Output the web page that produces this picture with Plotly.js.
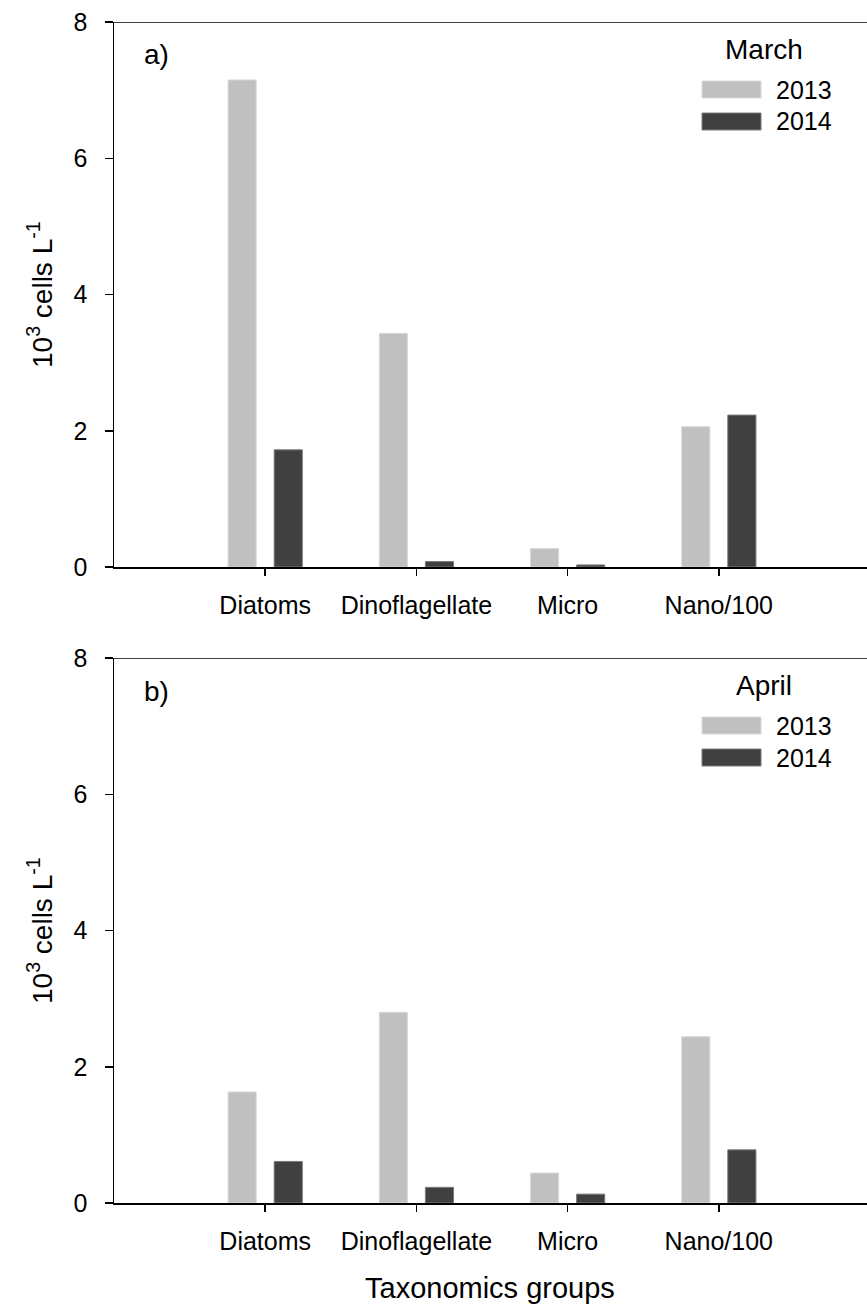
<!DOCTYPE html>
<html>
<head>
<meta charset="utf-8">
<script src="https://cdn.plot.ly/plotly-3.0.1.min.js"></script>
<style>html,body{margin:0;padding:0;background:#fff;}#chart{width:867px;height:1306px;}</style>
</head>
<body>
<div id="chart"></div>
<script>
const categories = ["Diatoms", "Dinoflagellate", "Micro", "Nano/100"];
const years = ["2013", "2014"];
const march2013 = [7.15, 3.43, 0.27, 2.06];
const march2014 = [1.72, 0.08, 0.03, 2.23];
const april2013 = [1.63, 2.80, 0.44, 2.44];
const april2014 = [0.61, 0.23, 0.13, 0.78];
const yTicks = [0, 2, 4, 6, 8];
const panelLabels = ["a)", "b)"];
const months = ["March", "April"];

const W = 867, H = 1306;
const L = 114, R = 0, T = 22, B = 103;
const PW = W - L - R, PH = H - T - B;
const px = x => (x - L) / PW;
const py = y => (H - B - y) / PH;

const FONT = "Arial, 'Liberation Sans', sans-serif";
const c2013 = "#c0c0c0", c2014 = "#404040";

function bars(y, yr, axis, color, lineColor) {
  return {
    type: "bar", x: categories, y: y, name: yr, xaxis: axis[0], yaxis: axis[1],
    marker: {color: color, line: {color: lineColor, width: 1}},
    showlegend: false, hoverinfo: "x+y"
  };
}

const data = [
  bars(march2013, years[0], ["x", "y"], c2013, "#d9d9d9"),
  bars(march2014, years[1], ["x", "y"], c2014, "#7a7a7a"),
  bars(april2013, years[0], ["x2", "y2"], c2013, "#d9d9d9"),
  bars(april2014, years[1], ["x2", "y2"], c2014, "#7a7a7a")
];

const aTop = 1, aBot = py(567), bTop = py(658), bBot = 0;

function xax(anchor) {
  return {
    domain: [0, 1], anchor: anchor, range: [-1, 3.98], type: "category",
    showline: true, linecolor: "#000", linewidth: 2, mirror: false,
    ticks: "outside", ticklen: 7, tickwidth: 1.5, tickcolor: "#000",
    ticklabelstandoff: 8,
    tickfont: {family: FONT, size: 25, color: "#000"},
    showgrid: false, zeroline: false, fixedrange: true
  };
}
function yax(anchor, dom) {
  return {
    domain: dom, anchor: anchor, range: [0, 8], tickvals: yTicks, ticktext: yTicks.map(String),
    showline: true, linecolor: "#000", linewidth: 1.5,
    ticks: "outside", ticklen: 8, tickwidth: 1.5, tickcolor: "#000",
    ticklabelstandoff: 12,
    tickfont: {family: FONT, size: 25, color: "#000"},
    showgrid: false, zeroline: false, fixedrange: true
  };
}

const annotations = [];
const shapes = [];
const panels = [
  {top: 22, yref: "y", month: months[0], label: panelLabels[0]},
  {top: 658, yref: "y2", month: months[1], label: panelLabels[1]}
];
panels.forEach(p => {
  shapes.push({type: "line", xref: "paper", yref: p.yref, x0: 0, x1: 1, y0: 8, y1: 8,
    line: {color: "#000", width: 1.5}});
  annotations.push({xref: "paper", yref: "paper", x: px(142), y: py(p.top + 33), xanchor: "left", yanchor: "middle",
    text: p.label, showarrow: false, font: {family: FONT, size: 28, color: "#000"}});
  annotations.push({xref: "paper", yref: "paper", x: px(764), y: py(p.top + 27), xanchor: "center", yanchor: "middle",
    text: p.month, showarrow: false, font: {family: FONT, size: 28, color: "#000"}});
  [[c2013, "#d9d9d9", years[0], 59], [c2014, "#7a7a7a", years[1], 91]].forEach(([c, lc, yr, off]) => {
    shapes.push({type: "rect", xref: "paper", yref: "paper", x0: px(702), x1: px(761),
      y0: py(p.top + off), y1: py(p.top + off + 17), fillcolor: c, line: {color: lc, width: 1}});
    annotations.push({xref: "paper", yref: "paper", x: px(774), y: py(p.top + off + 8.5), xanchor: "left", yanchor: "middle",
      text: yr, showarrow: false, font: {family: FONT, size: 25, color: "#000"}});
  });
  annotations.push({xref: "paper", yref: "paper", x: px(40), y: py(p.top + 273), xanchor: "center", yanchor: "middle",
    textangle: -90, text: "10<sup>3</sup> cells L<sup>-1</sup>", showarrow: false,
    font: {family: FONT, size: 28, color: "#000"}});
});
annotations.push({xref: "paper", yref: "paper", x: px(490), y: py(1288), xanchor: "center", yanchor: "middle",
  text: "Taxonomics groups", showarrow: false, font: {family: FONT, size: 29, color: "#000"}});

const layout = {
  width: W, height: H,
  margin: {l: L, r: R, t: T, b: B, pad: 0},
  paper_bgcolor: "#fff", plot_bgcolor: "#fff",
  barmode: "group", bargap: 0.39, bargroupgap: 0.39,
  showlegend: false,
  xaxis: xax("y"), yaxis: yax("x", [aBot, aTop]),
  xaxis2: xax("y2"), yaxis2: yax("x2", [bBot, bTop]),
  shapes: shapes, annotations: annotations
};

Plotly.newPlot("chart", data, layout, {displayModeBar: false, staticPlot: true});
</script>
</body>
</html>
